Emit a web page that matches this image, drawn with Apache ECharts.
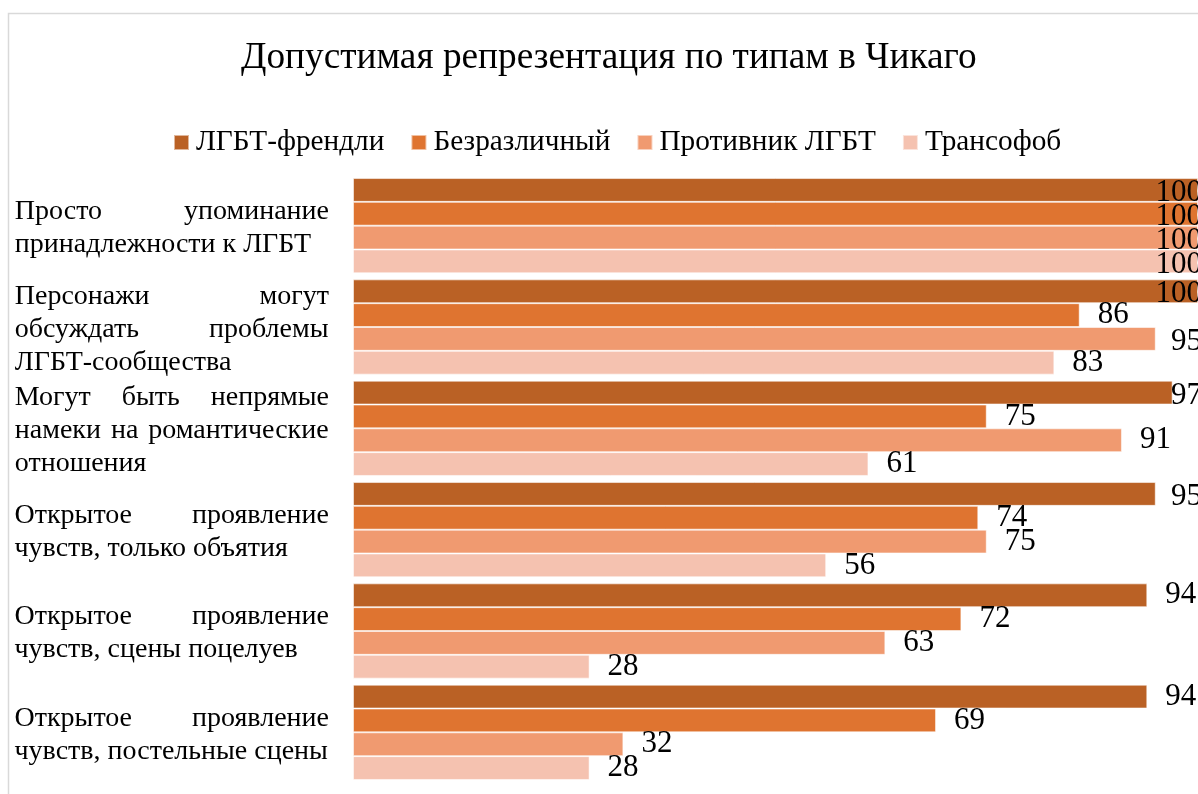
<!DOCTYPE html>
<html>
<head>
<meta charset="utf-8">
<script src="https://cdn.jsdelivr.net/npm/echarts@6/dist/echarts.min.js"></script>
<style>
  html, body { margin: 0; padding: 0; background: #fff; }
  #chart { width: 1198px; height: 794px; }
</style>
</head>
<body>
<div id="chart"></div>
<script>
// line breaks follow the wrapping in the original chart
let categories = [
  "Просто упоминание\nпринадлежности к ЛГБТ",
  "Персонажи могут\nобсуждать проблемы\nЛГБТ-сообщества",
  "Могут быть непрямые\nнамеки на романтические\nотношения",
  "Открытое проявление\nчувств, только объятия",
  "Открытое проявление\nчувств, сцены поцелуев",
  "Открытое проявление\nчувств, постельные сцены"
]
let seriesNames = ["ЛГБТ-френдли", "Безразличный", "Противник ЛГБТ", "Трансофоб"]
let friendly = [100, 100, 97, 95, 94, 94]
let indifferent = [100, 86, 75, 74, 72, 69]
let opponent = [100, 95, 91, 75, 63, 32]
let transphobe = [100, 83, 61, 56, 28, 28]
let colors = ["#BA6125", "#DF7430", "#F09A70", "#F5C2B0"]

const FONT = "Liberation Serif"
const CAT_SIZE = 28
const CAT_WIDTH = 314

//measure words for the justified category text
let ctx = document.createElement("canvas").getContext("2d")
ctx.font = CAT_SIZE + "px " + FONT
function textWidth(s) {
  return ctx.measureText(s).width
}

// every line but the last is stretched to the full width
function justified(text) {
  let lines = text.split("\n")
  return lines.map(function (line, i) {
    let words = line.split(" ")
    if (i === lines.length - 1 || words.length < 2) return "{w|" + line + "}"
    let used = 0
    words.forEach(function (w) { used += textWidth(w) })
    let gap = Math.max(textWidth(" "), (CAT_WIDTH - used) / (words.length - 1))
    let out = ""
    let acc = 0
    words.forEach(function (w, k) {
      out += "{w|" + w + "}"
      if (k < words.length - 1) {
        let px = Math.round(acc + gap) - Math.round(acc)
        acc += gap
        out += "{g" + px + "| }"
      }
    })
    return out
  }).join("\n")
}

let rich = {
  w: { fontFamily: FONT, fontSize: CAT_SIZE, lineHeight: 33, color: "#000", align: "left" }
}
for (let i = 0; i <= 320; i++) {
  rich["g" + i] = { fontFamily: FONT, fontSize: CAT_SIZE, lineHeight: 33, width: i, align: "left" }
}

let myChart = echarts.init(document.getElementById("chart"))

let series = [friendly, indifferent, opponent, transphobe].map(function (vals, i) {
  return {
    name: seriesNames[i],
    type: "bar",
    data: vals,
    barGap: "0%",
    barCategoryGap: "6%",
    itemStyle: {
      color: colors[i],
      borderColor: "rgba(255,255,255,0.55)",
      borderWidth: 1
    },
    label: {
      show: true,
      position: "right",
      distance: 18,
      offset: [0, 3],
      fontFamily: FONT,
      fontSize: 31,
      color: "#000"
    },
    //Excel keeps labels inside the chart edge
    labelLayout: function (params) {
      let r = params.labelRect
      let maxX = 1202 - r.width
      if (r.x > maxX) {
        return { x: maxX, y: r.y, align: "left", verticalAlign: "top" }
      }
      return {}
    }
  }
})

let option = {
  animation: false,
  title: {
    text: "Допустимая репрезентация по типам в Чикаго",
    left: 236,
    top: 35,
    textStyle: {
      fontFamily: FONT,
      fontSize: 37.3,
      fontWeight: "normal",
      color: "#000"
    }
  },
  legend: {
    top: 123,
    left: 168,
    icon: "rect",
    itemWidth: 15,
    itemHeight: 15,
    itemGap: 26,
    textStyle: {
      fontFamily: FONT,
      fontSize: 29.3,
      color: "#000",
      padding: [0, 0, 0, 2]
    },
    data: seriesNames
  },
  grid: {
    left: 353,
    right: -2,
    top: 175,
    bottom: 11,
    containLabel: false
  },
  xAxis: {
    type: "value",
    min: 0,
    max: 100,
    show: false
  },
  yAxis: {
    type: "category",
    data: categories,
    inverse: true,
    axisLine: { show: false },
    axisTick: { show: false },
    axisLabel: {
      margin: 24,
      align: "right",
      padding: [5, 0, 0, 0],
      formatter: function (v) {
        return justified(v)
      },
      rich: rich
    }
  },
  graphic: [
    {
      type: "rect",
      z: 100,
      shape: { x: 0, y: 0, width: 8, height: 794 },
      style: { fill: "#fff" }
    },
    {
      type: "rect",
      z: 101,
      shape: { x: 8.5, y: 13.5, width: 1400, height: 1000 },
      style: { fill: null, stroke: "#D9D9D9", lineWidth: 1.5 }
    }
  ],
  series: series
}
myChart.setOption(option)
</script>
</body>
</html>
